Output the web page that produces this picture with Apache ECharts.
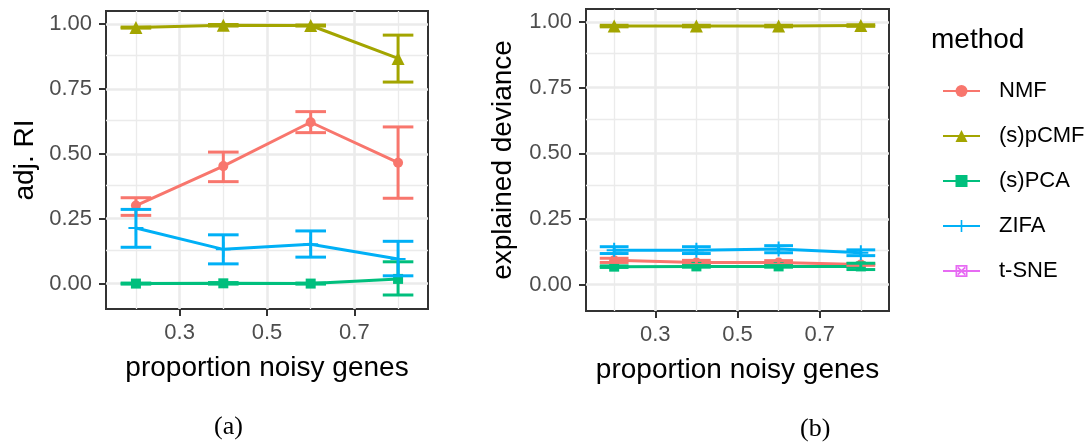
<!DOCTYPE html>
<html><head><meta charset="utf-8">
<script src="https://cdn.jsdelivr.net/npm/echarts@6/dist/echarts.min.js"></script>
<style>html,body{margin:0;padding:0;background:#fff}#c{width:1086px;height:444px}</style>
</head><body><div id="c"></div>
<script>
// ---------- data ----------
const xVals = [0.2, 0.4, 0.6, 0.8];
const methods = ['NMF', '(s)pCMF', '(s)PCA', 'ZIFA', 't-SNE'];
const xTicks = [0.3, 0.5, 0.7];
const xMinor = [0.2, 0.4, 0.6, 0.8];
const yTicks = [0, 0.25, 0.5, 0.75, 1];
const yMinor = [0.125, 0.375, 0.625, 0.875];

// panel (a): adj. RI
const nmfA = [0.301, 0.453, 0.622, 0.466];
const nmfALo = [0.263, 0.393, 0.582, 0.329];
const nmfAHi = [0.331, 0.507, 0.663, 0.604];
const pcmfA = [0.987, 0.996, 0.995, 0.868];
const pcmfALo = [0.985, 0.993, 0.993, 0.777];
const pcmfAHi = [0.989, 0.999, 0.997, 0.958];
const pcaA = [0.000, 0.001, 0.000, 0.018];
const pcaALo = [-0.002, -0.002, -0.002, -0.044];
const pcaAHi = [0.002, 0.004, 0.002, 0.084];
const zifaA = [0.214, 0.132, 0.152, 0.095];
const zifaALo = [0.140, 0.076, 0.102, 0.030];
const zifaAHi = [0.286, 0.188, 0.203, 0.163];

// panel (b): explained deviance
const nmfB = [0.092, 0.084, 0.084, 0.076];
const nmfBLo = [0.084, 0.076, 0.077, 0.073];
const nmfBHi = [0.100, 0.092, 0.091, 0.079];
const pcmfB = [0.985, 0.985, 0.985, 0.987];
const pcmfBLo = [0.982, 0.982, 0.982, 0.984];
const pcmfBHi = [0.988, 0.988, 0.988, 0.990];
const pcaB = [0.068, 0.069, 0.069, 0.069];
const pcaBLo = [0.065, 0.066, 0.066, 0.057];
const pcaBHi = [0.071, 0.072, 0.072, 0.081];
const zifaB = [0.131, 0.131, 0.135, 0.121];
const zifaBLo = [0.118, 0.118, 0.121, 0.110];
const zifaBHi = [0.144, 0.144, 0.148, 0.132];

// ---------- styles ----------
const colors = ['#F8766D', '#A3A500', '#00BF7D', '#00B0F6', '#E76BF3'];
const symbols = ['circle', 'triangle', 'rect',
  'path://M6.5,0H8.5V15H6.5Z M0,6.5H15V8.5H0Z',
  'path://M0,0H14V14H0Z M2,12H12V2H2Z M2,3.4L3.4,2L12,10.6L10.6,12Z M3.4,12L2,10.6L10.6,2L12,3.4Z'];
const symbolSizes = [10, 13, 10, 15, 12];
const FONT = 'Liberation Sans, Arial, sans-serif';
const capHalf = 0.035;
const LW = 3;

const panels = [
  {means: [nmfA, pcmfA, pcaA, zifaA], lo: [nmfALo, pcmfALo, pcaALo, zifaALo], hi: [nmfAHi, pcmfAHi, pcaAHi, zifaAHi]},
  {means: [nmfB, pcmfB, pcaB, zifaB], lo: [nmfBLo, pcmfBLo, pcaBLo, zifaBLo], hi: [nmfBHi, pcmfBHi, pcaBHi, zifaBHi]}
];

function errRender(color) {
  return function (params, api) {
    const x = api.value(0), lo = api.value(1), hi = api.value(2);
    const a = api.coord([x, lo]), b = api.coord([x, hi]);
    const l1 = api.coord([x - capHalf, lo]), r1 = api.coord([x + capHalf, lo]);
    const l2 = api.coord([x - capHalf, hi]), r2 = api.coord([x + capHalf, hi]);
    const st = {stroke: color, lineWidth: LW};
    return {type: 'group', children: [
      {type: 'line', shape: {x1: a[0], y1: a[1], x2: b[0], y2: b[1]}, style: st},
      {type: 'line', shape: {x1: l1[0], y1: l1[1], x2: r1[0], y2: r1[1]}, style: st},
      {type: 'line', shape: {x1: l2[0], y1: l2[1], x2: r2[0], y2: r2[1]}, style: st}
    ]};
  };
}

const series = [];
// gridlines via markLine helpers
for (let p = 0; p < 2; p++) {
  const ml = [];
  yMinor.forEach(v => ml.push({yAxis: v, lineStyle: {color: '#EBEBEB', width: 1.3, type: 'solid'}}));
  xMinor.forEach(v => ml.push({xAxis: v, lineStyle: {color: '#EBEBEB', width: 1.3, type: 'solid'}}));
  yTicks.forEach(v => ml.push({yAxis: v, lineStyle: {color: '#EBEBEB', width: 2.6, type: 'solid'}}));
  xTicks.forEach(v => ml.push({xAxis: v, lineStyle: {color: '#EBEBEB', width: 2.6, type: 'solid'}}));
  series.push({
    type: 'line', name: 'grid' + p, xAxisIndex: p, yAxisIndex: p, data: [], z: 0,
    markLine: {silent: true, symbol: ['none', 'none'], label: {show: false}, animation: false, z: 0,
      emphasis: {disabled: true}, data: ml}
  });
}
for (let p = 0; p < 2; p++) {
  for (let m = 0; m < 4; m++) {
    series.push({
      type: 'line', name: methods[m], xAxisIndex: p, yAxisIndex: p,
      data: xVals.map((x, i) => [x, panels[p].means[m][i]]),
      symbol: symbols[m], symbolSize: symbolSizes[m], showAllSymbol: true,
      color: colors[m], itemStyle: {color: colors[m]},
      lineStyle: {color: colors[m], width: LW}, z: 3
    });
  }
  for (let m = 0; m < 4; m++) {
    series.push({
      type: 'custom', name: methods[m] + ' err', xAxisIndex: p, yAxisIndex: p,
      data: xVals.map((x, i) => [x, panels[p].lo[m][i], panels[p].hi[m][i]]),
      encode: {x: 0, y: [1, 2]}, renderItem: errRender(colors[m]), z: 4
    });
  }
}
series.push({
  type: 'line', name: methods[4], xAxisIndex: 0, yAxisIndex: 0, data: [],
  symbol: symbols[4], symbolSize: symbolSizes[4], color: colors[4],
  itemStyle: {color: colors[4]}, lineStyle: {color: colors[4], width: LW}
});

function xAxisCfg(idx) {
  return {
    type: 'value', gridIndex: idx, min: 0.1315, max: 0.8685,
    name: 'proportion noisy genes', nameLocation: 'middle', nameGap: 45,
    nameTextStyle: {fontSize: 28, color: '#000', fontFamily: FONT},
    axisLine: {show: false, onZero: false},
    axisTick: {show: true, customValues: xTicks, length: 7, lineStyle: {color: '#333', width: 2}},
    axisLabel: {show: true, customValues: xTicks, margin: 13, fontSize: 22, color: '#4D4D4D', fontFamily: FONT,
      formatter: v => v.toFixed(1)},
    splitLine: {show: false}
  };
}
function yAxisCfg(idx, name, mn, mx, gap) {
  return {
    type: 'value', gridIndex: idx, min: mn, max: mx,
    name: name, nameLocation: 'middle', nameGap: gap,
    nameTextStyle: {fontSize: 28, color: '#000', fontFamily: FONT},
    axisLine: {show: false, onZero: false},
    axisTick: {show: true, customValues: yTicks, length: 7, lineStyle: {color: '#333', width: 2}},
    axisLabel: {show: true, customValues: yTicks, margin: 14, fontSize: 22, color: '#4D4D4D', fontFamily: FONT,
      formatter: v => v.toFixed(2)},
    splitLine: {show: false}
  };
}

const option = {
  animation: false,
  backgroundColor: '#fff',
  grid: [
    {left: 106, top: 11, width: 322, height: 298, show: true, borderColor: '#333', borderWidth: 2, backgroundColor: 'transparent'},
    {left: 586, top: 9, width: 303, height: 302, show: true, borderColor: '#333', borderWidth: 2, backgroundColor: 'transparent'}
  ],
  xAxis: [xAxisCfg(0), xAxisCfg(1)],
  yAxis: [yAxisCfg(0, 'adj. RI', -0.098, 1.051, 67), yAxisCfg(1, 'explained deviance', -0.101, 1.05, 69)],
  title: {text: 'method', left: 926, top: 21, textStyle: {fontSize: 28, fontWeight: 'normal', color: '#000', fontFamily: FONT}},
  legend: {
    orient: 'vertical', left: 937, top: 75, itemWidth: 37, itemHeight: 15, itemGap: 23,
    data: methods, selectedMode: false,
    textStyle: {fontSize: 22, color: '#000', fontFamily: FONT, padding: [0, 0, 0, 14]}
  },
  graphic: [
    {type: 'text', left: 214, top: 414, style: {text: '(a)', font: '26px "Liberation Serif", serif', fill: '#000'}},
    {type: 'text', left: 800, top: 416, style: {text: '(b)', font: '26px "Liberation Serif", serif', fill: '#000'}}
  ],
  series: series
};
const chart = echarts.init(document.getElementById('c'), null, {renderer: 'canvas'});
chart.setOption(option);
</script>
</body></html>
